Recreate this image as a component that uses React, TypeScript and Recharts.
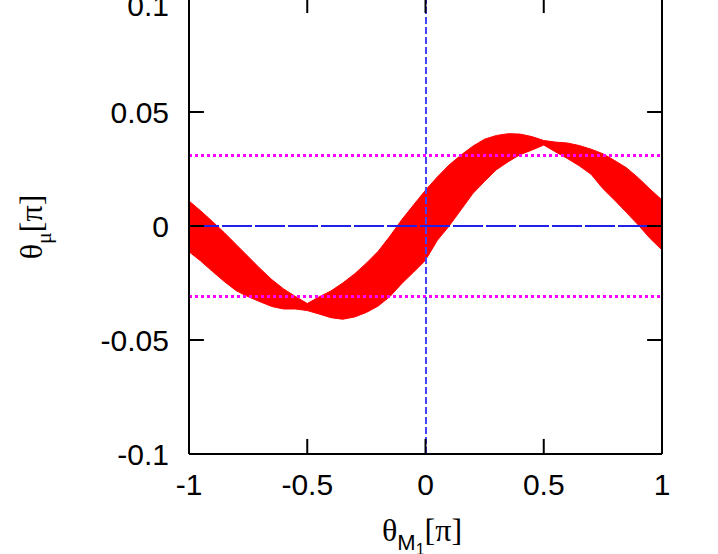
import React from "react";
import {
  ComposedChart,
  Area,
  XAxis,
  YAxis,
  ReferenceLine,
  Label,
} from "recharts";

// theta_M1 grid, in units of pi
const xValues = [
  -1, -0.95, -0.9, -0.85, -0.8, -0.75, -0.7, -0.65, -0.6, -0.55, -0.5,
  -0.45, -0.4, -0.35, -0.3, -0.25, -0.2, -0.15, -0.1, -0.05, 0,
  0.05, 0.1, 0.15, 0.2, 0.25, 0.3, 0.35, 0.4, 0.45, 0.5,
  0.55, 0.6, 0.65, 0.7, 0.75, 0.8, 0.85, 0.9, 0.95, 1,
];

// upper edge of the red band (theta_mu, units of pi)
const upperEdge = [
  0.011, 0.0066, 0.0019, -0.003, -0.0082, -0.0134, -0.0186, -0.0235, -0.0276, -0.0309, -0.034,
  -0.0311, -0.0285, -0.025, -0.021, -0.0163, -0.0111, -0.0044, 0.0028, 0.0093, 0.0157,
  0.0215, 0.0268, 0.0311, 0.035, 0.0381, 0.0397, 0.0405, 0.0403, 0.0392, 0.0375,
  0.0368, 0.0364, 0.0353, 0.0337, 0.0317, 0.0287, 0.0255, 0.0211, 0.0161, 0.0114,
];

// lower edge of the red band
const lowerEdge = [
  -0.0113, -0.0154, -0.02, -0.0244, -0.0284, -0.031, -0.0332, -0.0353, -0.0364, -0.0364, -0.0371,
  -0.0386, -0.0402, -0.0409, -0.0399, -0.0379, -0.0351, -0.0309, -0.0252, -0.0202, -0.015,
  -0.0063, 0.0, 0.0071, 0.0142, 0.0196, 0.0247, 0.0282, 0.0313, 0.0333, 0.0355,
  0.0325, 0.0296, 0.0264, 0.0227, 0.0164, 0.0113, 0.0059, 0.0004, -0.0055, -0.0105,
];

const xTicks = [-1, -0.5, 0, 0.5, 1];
const yTicks = [-0.1, -0.05, 0, 0.05, 0.1];
const limitLevels = [0.031, -0.031];

const bandData = xValues.map((x, i) => ({
  x,
  band: [lowerEdge[i], upperEdge[i]],
}));

const TICK_X = 0.063; // inward tick length on x scale
const TICK_Y = 0.0066; // inward tick length on y scale

const sans = "'Liberation Sans', Arial, sans-serif";
const serif = "'Liberation Serif', 'Times New Roman', serif";
const tickFont = { fontFamily: sans, fontSize: 30, fill: "#000" };

function XTitle(props: any) {
  const vb = props.viewBox || { x: 189, y: 466 };
  return (
    <text x={vb.x + 193} y={vb.y + 87} fontFamily={serif} fontSize={32} fill="#000">
      <tspan>θ</tspan>
      <tspan dy={9} fontSize={22} fontFamily={sans}>M</tspan>
      <tspan dy={5} fontSize={16} fontFamily={sans}>1</tspan>
      <tspan dy={-14}>[π]</tspan>
    </text>
  );
}

function YTitle() {
  const cx = 42;
  const cy = 239;
  return (
    <text
      x={cx}
      y={cy}
      transform={`rotate(-90, ${cx}, ${cy})`}
      textAnchor="middle"
      fontFamily={serif}
      fontSize={32}
      fill="#000"
    >
      <tspan>θ</tspan>
      <tspan dy={9} fontSize={22}>μ</tspan>
      <tspan dy={-9}>[π]</tspan>
    </text>
  );
}

export default function App() {
  return (
    <div style={{ position: "absolute", left: 0, top: 0, width: 718, height: 554, overflow: "hidden", background: "#fff" }}>
      <div style={{ position: "relative", top: -12 }}>
        <ComposedChart
          width={718}
          height={566}
          data={bandData}
          margin={{ top: 10, right: 56, left: 0, bottom: 0 }}
        >
          <XAxis
            dataKey="x"
            type="number"
            domain={[-1, 1]}
            ticks={xTicks}
            allowDataOverflow
            tick={tickFont}
            tickLine={false}
            tickSize={0}
            tickMargin={20}
            height={100}
            axisLine={{ stroke: "#000", strokeWidth: 2 }}
          >
            <Label content={<XTitle />} />
          </XAxis>
          <YAxis
            type="number"
            domain={[-0.1, 0.1]}
            ticks={yTicks}
            allowDataOverflow
            tick={tickFont}
            tickLine={false}
            tickSize={0}
            tickMargin={20}
            width={189}
            axisLine={{ stroke: "#000", strokeWidth: 2 }}
          >
            <Label content={<YTitle />} />
          </YAxis>
          <Area
            type="linear"
            dataKey="band"
            fill="#ff0000"
            fillOpacity={1}
            stroke="#ff0000"
            strokeWidth={1}
            isAnimationActive={false}
          />
          {limitLevels.map((v) => (
            <ReferenceLine
              key={`lim${v}`}
              y={v}
              stroke="#ff00ff"
              strokeWidth={3}
              strokeDasharray="3 3"
              shapeRendering="crispEdges"
            />
          ))}
          <ReferenceLine y={0} stroke="#2020e8" strokeWidth={2} strokeDasharray="30 3" shapeRendering="crispEdges" />
          <ReferenceLine x={0} stroke="#4444ff" strokeWidth={2} strokeDasharray="7 3" shapeRendering="crispEdges" />
          <ReferenceLine x={1} stroke="#000" strokeWidth={2} />
          <ReferenceLine y={0.1} stroke="#000" strokeWidth={2} />
          {xTicks.map((t) => (
            <ReferenceLine
              key={`xb${t}`}
              segment={[{ x: t, y: -0.1 }, { x: t, y: -0.1 + TICK_Y }]}
              stroke="#000"
              strokeWidth={2}
            />
          ))}
          {xTicks.map((t) => (
            <ReferenceLine
              key={`xt${t}`}
              segment={[{ x: t, y: 0.1 }, { x: t, y: 0.1 - TICK_Y }]}
              stroke="#000"
              strokeWidth={2}
            />
          ))}
          {yTicks.map((t) => (
            <ReferenceLine
              key={`yl${t}`}
              segment={[{ x: -1, y: t }, { x: -1 + TICK_X, y: t }]}
              stroke="#000"
              strokeWidth={2}
            />
          ))}
          {yTicks.map((t) => (
            <ReferenceLine
              key={`yr${t}`}
              segment={[{ x: 1, y: t }, { x: 1 - TICK_X, y: t }]}
              stroke="#000"
              strokeWidth={2}
            />
          ))}
        </ComposedChart>
      </div>
    </div>
  );
}
